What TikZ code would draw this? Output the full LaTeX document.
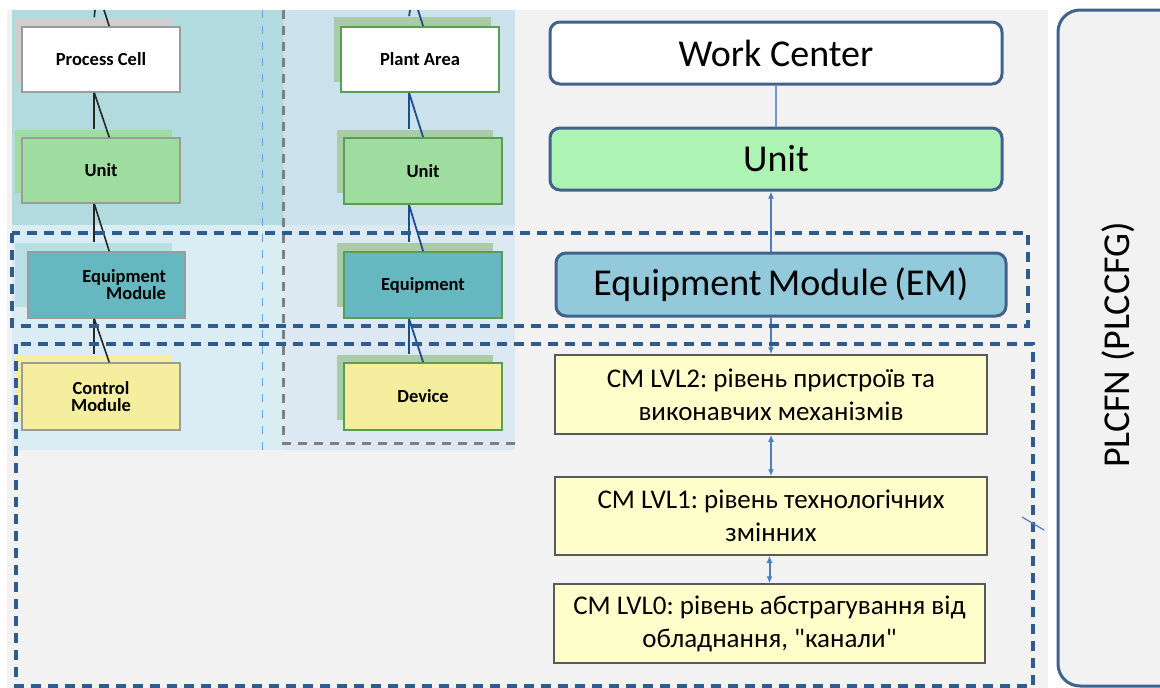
\documentclass[tikz,border=0pt]{standalone}
\usepackage{fontspec}
\setmainfont{Carlito}
\newfontfamily\rawcarlito{Carlito}
\frenchspacing
\usetikzlibrary{arrows.meta,calc}
\definecolor{panelgray}{HTML}{F2F2F2}
\definecolor{tealbg}{HTML}{B1DBDF}
\definecolor{lowleftbg}{HTML}{DAEDF4}
\definecolor{midtopbg}{HTML}{CBE2EC}
\definecolor{midlowbg}{HTML}{DCE9F2}
\definecolor{shgray}{HTML}{CFCFCF}
\definecolor{ugreen}{HTML}{9EDCA0}
\definecolor{emteal}{HTML}{66B8C0}
\definecolor{emshadow}{HTML}{B8E0E4}
\definecolor{cmyellow}{HTML}{F5EE9F}
\definecolor{midshadow}{HTML}{A9CBA6}
\definecolor{midborder}{HTML}{5A9E55}
\definecolor{leftborder}{HTML}{9C9C9C}
\definecolor{rborder}{HTML}{41628C}
\definecolor{unitRfill}{HTML}{ADF3B3}
\definecolor{emRfill}{HTML}{92CADB}
\definecolor{cmfill}{HTML}{FFFFCC}
\definecolor{cmborder}{HTML}{595959}
\definecolor{bandblue}{HTML}{2F5C8E}
\definecolor{connblue}{HTML}{4A7EC0}
\definecolor{midconn}{HTML}{1F4E8C}
\definecolor{thinblue}{HTML}{5DA5DA}
\definecolor{dashgray}{HTML}{808080}
\begin{document}
\begin{tikzpicture}[x=1pt,y=-1pt,
  leftbox/.style={draw=leftborder, line width=1.5pt, inner sep=0pt, align=center,
    font=\fontsize{18.5}{17}\selectfont\bfseries},
  midbox/.style={draw=midborder, line width=1.8pt, inner sep=0pt, align=center,
    font=\fontsize{18.5}{17}\selectfont\bfseries},
  rbox/.style={draw=rborder, line width=3pt, rounded corners=10pt, inner sep=0pt,
    font=\fontsize{38}{40}\selectfont},
  cmbox/.style={draw=cmborder, line width=1.5pt, fill=cmfill, inner sep=0pt, align=center,
    font=\fontsize{27}{33}\selectfont},
  band/.style={draw=bandblue, line width=3.5pt, dash pattern=on 10pt off 7pt},
  lconn/.style={draw=black!85, line width=1.6pt},
  mconn/.style={draw=midconn, line width=1.8pt},
  rconn/.style={draw=connblue, line width=2pt},
  tip/.style={-{Latex[length=7pt,width=6pt]}},
  tips/.style={{Latex[length=7pt,width=6pt]}-{Latex[length=7pt,width=6pt]}}
]
\useasboundingbox (0,0) rectangle (1160,688);
\clip (0,0) rectangle (1160,688);
\fill[white] (0,0) rectangle (1160,688);
\fill[panelgray] (7,10) rectangle (1048,688);
% background regions
\fill[tealbg] (12,10) rectangle (283,225);
\fill[midtopbg] (283,10) rectangle (515,225);
\fill[lowleftbg] (12,225) rectangle (283,450);
\fill[midlowbg] (283,225) rectangle (515,450);
\draw[thinblue, line width=1pt, dash pattern=on 8pt off 8pt] (262,10) -- (262,450);
\draw[dashgray, line width=3pt, dash pattern=on 9pt off 7pt] (283,10) -- (283,443) -- (515,443);
% PLCFN box
\draw[rborder, line width=3pt, fill=panelgray, rounded corners=22pt] (1058,10) rectangle (1200,686);
\node[rotate=90, font=\fontsize{38}{40}\selectfont] (plc) at (1118,345) {PLCFN (PLCCFG)};
% left shadows
\fill[shgray] (15,18) rectangle (172,82);
\fill[ugreen] (15,130) rectangle (172,193);
\fill[emshadow] (15,243) rectangle (172,307);
\fill[cmyellow] (15,355) rectangle (172,420);
% middle shadows
\fill[midshadow] (334,17) rectangle (491,82);
\fill[midshadow] (337,130) rectangle (493,193);
\fill[midshadow] (337,243) rectangle (493,307);
\fill[midshadow] (337,355) rectangle (493,420);
% left boxes
\node[leftbox, fill=white, minimum width=158pt, minimum height=65pt] (pc) at (101,59.5) {Process Cell};
\node[leftbox, fill=ugreen, minimum width=158pt, minimum height=65pt] (unitL) at (101,170.5) {Unit};
\node[leftbox, fill=emteal, minimum width=157pt, minimum height=66pt, text width=119pt, align=right] (emL) at (106.5,285) {Equipment\\Module\hspace*{6pt}};
\node[leftbox, fill=cmyellow, minimum width=158pt, minimum height=67pt] (cmL) at (101,396.5) {Control\\Module};
% middle boxes
\node[midbox, fill=white, minimum width=158pt, minimum height=65pt] (pa) at (420,59.5) {Plant Area};
\node[midbox, fill=ugreen, minimum width=158pt, minimum height=66pt] (unitM) at (423,171) {Unit};
\node[midbox, fill=emteal, minimum width=158pt, minimum height=66pt] (eqM) at (423,285) {Equipment};
\node[midbox, fill=cmyellow, minimum width=158pt, minimum height=67pt] (dev) at (423,396.5) {Device};
% left connectors
\coordinate (topLv) at (95,10);
\coordinate (topLs) at (104,10);
\draw[lconn] (topLv) -- ($(pc.north west)+(73,-9)$);
\draw[lconn] (topLs) -- ($(pc.north west)+(88,0)$);
\draw[lconn] ($(pc.south west)+(73,0)$) -- ($(unitL.north west)+(73,-8)$);
\draw[lconn] ($(pc.south west)+(73,0)$) -- ($(unitL.north west)+(88,0)$);
\draw[lconn] ($(unitL.south west)+(73,0)$) -- ($(emL.north west)+(67,-9)$);
\draw[lconn] ($(unitL.south west)+(73,0)$) -- ($(emL.north west)+(82,0)$);
\draw[lconn] ($(emL.south west)+(67,0)$) -- ($(cmL.north west)+(73,-8)$);
\draw[lconn] ($(emL.south west)+(67,0)$) -- ($(cmL.north west)+(88,0)$);
% middle connectors
\coordinate (topMv) at (410,10);
\coordinate (topMs) at (418,10);
\draw[mconn] (topMv) -- ($(pa.north west)+(69,-10)$);
\draw[mconn] (topMs) -- ($(pa.north west)+(83,0)$);
\draw[mconn] ($(pa.south west)+(69,0)$) -- ($(unitM.north west)+(66,-8)$);
\draw[mconn] ($(pa.south west)+(69,0)$) -- ($(unitM.north west)+(80,0)$);
\draw[mconn] ($(unitM.south west)+(66,0)$) -- ($(eqM.north west)+(66,-9)$);
\draw[mconn] ($(unitM.south west)+(66,0)$) -- ($(eqM.north west)+(80,0)$);
\draw[mconn] ($(eqM.south west)+(66,0)$) -- ($(dev.north west)+(66,-8)$);
\draw[mconn] ($(eqM.south west)+(66,0)$) -- ($(dev.north west)+(80,0)$);
% right column
\node[rbox, fill=white, minimum width=452pt, minimum height=62pt] (wc) at (776,53) {Work Center};
\node[rbox, fill=unitRfill, minimum width=452pt, minimum height=62pt] (unitR) at (776,159) {Unit};
\node[rbox, fill=emRfill, minimum width=450pt, minimum height=63pt] (emR) at (781,284.5) {Equipment\,Module\,(EM)};
\node[cmbox, minimum width=432pt, minimum height=79pt] (cm2) at (771,394.5) {CM LVL2: рівень пристроїв та\\виконавчих механізмів};
\node[cmbox, minimum width=432pt, minimum height=78pt] (cm1) at (771,516) {CM LVL1: рівень технологічних\\змінних};
\node[cmbox, minimum width=431pt, minimum height=79pt] (cm0) at (769.5,623.5) {CM LVL0: рівень абстрагування від\\обладнання, {\rawcarlito "}канали{\rawcarlito "}};
\draw[rconn, line width=1.5pt, draw=connblue!80] (wc.south) -- (unitR.north);
\draw[rconn, tip] (emR.north -| cm2.north) -- (unitR.south -| cm2.north);
\draw[rconn, tip] (emR.south -| cm2.north) -- (cm2.north);
\draw[rconn, tips] (cm2.south) -- (cm1.north);
\draw[rconn, tips] (cm1.south -| cm0.north) -- (cm0.north);
% dashed bands
\draw[band] (12,233) rectangle (1028,326);
\draw[band] (16,344) rectangle (1033,686);
\coordinate (xa) at (1022,517);
\coordinate (xb) at (1044,530);
\draw[connblue, line width=1.2pt] (xa) -- (xb);
\end{tikzpicture}
\end{document}
